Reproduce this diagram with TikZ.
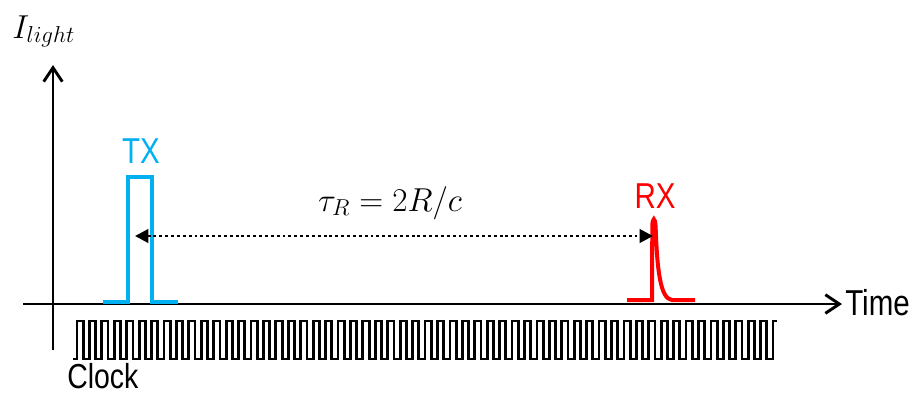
\documentclass[tikz,border=0pt]{standalone}
\usepackage{fontspec}
\usetikzlibrary{arrows.meta}
\newfontfamily\lblfont[FakeStretch=0.82]{Liberation Sans}
\definecolor{txblue}{RGB}{0,176,240}
\definecolor{rxred}{RGB}{255,0,0}
\begin{document}
\begin{tikzpicture}[x=0.75pt,y=-0.75pt,
  axis/.style={line width=2.2pt, -{Straight Barb[length=10.5pt,width=14pt,line width=2.2pt]}},
  lbl/.style={inner sep=0pt, font=\lblfont\fontsize{27}{30}\selectfont},
  pulse/.style={line width=3pt, line join=miter},
  clk/.style={line width=2.1pt, line join=miter},
  delay/.style={line width=2.2pt, dash pattern=on 2.2pt off 2.2pt,
    {Triangle[length=10pt,width=10pt]}-{Triangle[length=10pt,width=10pt]}}]
\useasboundingbox (0,0) rectangle (912,394);
% axes
\coordinate (yb) at (53,350);
\coordinate (yt) at (53,65);
\coordinate (xl) at (23,304);
\coordinate (xr) at (842,304);
\draw[axis] (yb) -- (yt);
\draw[axis] (xl) -- (xr);
\node[lbl, anchor=west] (time) at (845,303) {Time};
\node[anchor=base west, inner sep=0pt, font=\fontsize{27}{30}\selectfont] (ilight) at (12,38) {$I_{light}$};
% TX pulse
\draw[pulse, txblue] (103,302) -- (128,302) -- (128,177) -- (152,177) -- (152,302) -- (178,302);
\node[lbl, text=txblue] (tx) at (141,151) {TX};
% RX pulse
\draw[pulse, rxred] (627,300) -- (652,300) -- (652.3,226)
  .. controls (652.6,217) and (655,217) .. (655.6,226)
  .. controls (657,268) and (660,299) .. (672,300) -- (695,300);
\node[lbl, text=rxred] (rx) at (655,196) {RX};
% delay
\coordinate (txe) at (135,236);
\coordinate (rxe) at (653,236);
\draw[delay] (txe) -- (rxe);
\node[anchor=base, inner sep=0pt, font=\fontsize{23}{26}\selectfont] (tau) at (390,211) {$\tau_R = 2R/c$};
% clock
\draw[clk] (73,359) -- (77,359)
  \foreach \i in {0,...,55} { -- ++(0,-38) -- ++(6.215,0) -- ++(0,38) -- ++(6.215,0) }
  -- ++(0,-38) -- ++(4,0);
\node[lbl, anchor=west, font=\lblfont\fontsize{26}{29}\selectfont] (clock) at (67,376) {Clock};
\end{tikzpicture}
\end{document}
